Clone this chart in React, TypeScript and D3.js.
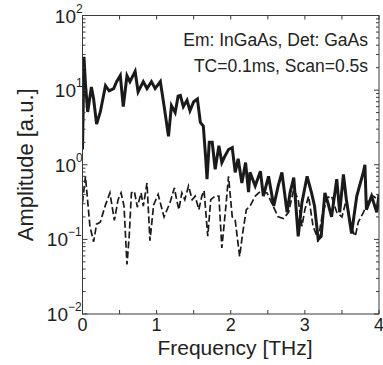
import React from 'react';
import * as d3 from 'd3';

// emitter InGaAs, detector GaAs spectra (solid = signal, dashed = noise floor)
const solidFreq = [0.00, 0.02, 0.04, 0.07, 0.12, 0.15, 0.19, 0.24, 0.31, 0.36, 0.42, 0.46, 0.51, 0.55, 0.60, 0.64, 0.71, 0.75, 0.82, 0.87, 0.93, 0.98, 1.05, 1.10, 1.16, 1.20, 1.25, 1.29, 1.32, 1.36, 1.41, 1.45, 1.50, 1.55, 1.59, 1.63, 1.66, 1.68, 1.71, 1.75, 1.79, 1.84, 1.88, 1.92, 1.97, 2.02, 2.06, 2.10, 2.15, 2.20, 2.24, 2.26, 2.33, 2.40, 2.44, 2.51, 2.58, 2.64, 2.69, 2.76, 2.80, 2.85, 2.91, 2.96, 3.03, 3.09, 3.13, 3.18, 3.22, 3.27, 3.31, 3.36, 3.43, 3.47, 3.52, 3.56, 3.63, 3.70, 3.79, 3.81, 3.83, 3.90, 3.97, 4.00];
const solidAmp = [1.6, 28, 12, 5.1, 11, 7.6, 3.5, 5.1, 11.5, 9.8, 10.5, 13, 15.7, 6, 15.6, 13, 17.8, 9.5, 13, 10.5, 13, 10.5, 13, 6.2, 2.4, 6.2, 5, 8.3, 8.5, 6, 7.3, 5.3, 7, 7.6, 3.7, 3.3, 1.3, 0.64, 2, 2, 0.87, 1.8, 1.07, 1.3, 1.6, 1.7, 0.79, 1.2, 0.57, 1.07, 0.43, 0.79, 0.52, 0.82, 0.38, 0.7, 0.28, 0.52, 0.79, 0.23, 0.42, 0.67, 0.11, 0.31, 0.7, 0.42, 0.28, 0.1, 0.11, 0.42, 0.31, 0.2, 0.64, 0.23, 0.74, 0.34, 0.12, 0.38, 0.8, 1.0, 0.25, 0.38, 0.23, 0.4];

const dashFreq = [0.00, 0.04, 0.10, 0.15, 0.19, 0.24, 0.31, 0.37, 0.43, 0.48, 0.52, 0.56, 0.60, 0.63, 0.66, 0.70, 0.74, 0.79, 0.82, 0.87, 0.91, 0.96, 1.02, 1.10, 1.18, 1.24, 1.27, 1.30, 1.34, 1.38, 1.43, 1.48, 1.52, 1.57, 1.61, 1.64, 1.69, 1.73, 1.79, 1.84, 1.88, 1.93, 1.97, 2.02, 2.06, 2.12, 2.16, 2.21, 2.26, 2.33, 2.40, 2.49, 2.55, 2.64, 2.71, 2.78, 2.85, 2.91, 2.96, 3.00, 3.05, 3.11, 3.18, 3.23, 3.30, 3.36, 3.43, 3.50, 3.56, 3.63, 3.68, 3.72, 3.79, 3.86, 3.92, 3.99];
const dashAmp = [0.31, 0.7, 0.15, 0.093, 0.16, 0.17, 0.29, 0.42, 0.18, 0.34, 0.42, 0.28, 0.046, 0.11, 0.42, 0.44, 0.27, 0.42, 0.28, 0.57, 0.096, 0.29, 0.4, 0.2, 0.31, 0.49, 0.34, 0.25, 0.42, 0.34, 0.52, 0.34, 0.38, 0.25, 0.38, 0.45, 0.11, 0.34, 0.38, 0.38, 0.077, 0.25, 0.7, 0.2, 0.18, 0.059, 0.12, 0.25, 0.28, 0.38, 0.44, 0.42, 0.31, 0.2, 0.19, 0.23, 0.47, 0.34, 0.15, 0.25, 0.38, 0.15, 0.1, 0.2, 0.36, 0.38, 0.23, 0.2, 0.34, 0.14, 0.11, 0.17, 0.23, 0.34, 0.38, 0.34];

const xTickLabels = [0, 1, 2, 3, 4];
const yExponents = [-2, -1, 0, 1, 2];
const notes = ['Em: InGaAs, Det: GaAs', 'TC=0.1ms, Scan=0.5s'];

const W = 383;
const H = 365;
const FONT = '"Liberation Sans", Arial, sans-serif';
const AXIS = '#3a3a3a';

const App: React.FC = () => {
  const left = 82.5, right = 379, top = 15.5, bottom = 314;

  const x = d3.scaleLinear().domain([0, 4]).range([left, right]);
  const y = d3.scaleLog().domain([1e-2, 1e2]).range([bottom, top]);

  const line = d3.line<[number, number]>()
    .x(d => x(d[0]))
    .y(d => y(d[1]));

  const solid = solidFreq.map((f, i) => [f, solidAmp[i]] as [number, number]);
  const dashed = dashFreq.map((f, i) => [f, dashAmp[i]] as [number, number]);

  const xTicks = d3.range(0, 4.01, 0.5);
  const yMinor: number[] = [];
  yExponents.slice(0, -1).forEach(e => {
    for (let m = 2; m <= 9; m++) yMinor.push(m * Math.pow(10, e));
  });

  return (
    <svg width={W} height={H} style={{ position: 'absolute', left: 0, top: 0, background: '#fff' }}>
      <rect x={0} y={0} width={W} height={H} fill="#fff" />
      <defs>
        <clipPath id="clip">
          <rect x={left} y={top} width={right - left} height={bottom - top} />
        </clipPath>
      </defs>

      {/* plot lines */}
      <g clipPath="url(#clip)">
        <path d={line(solid) ?? ''} fill="none" stroke="#1a1a1a" strokeWidth={3} strokeLinejoin="miter" />
        <path d={line(dashed) ?? ''} fill="none" stroke="#1a1a1a" strokeWidth={1.7} strokeDasharray="7,3" />
      </g>

      {/* box */}
      <rect x={left} y={top} width={right - left} height={bottom - top} fill="none" stroke={AXIS} strokeWidth={1} />

      {/* x ticks */}
      {xTicks.map(t => (
        <g key={'xt' + t}>
          <line x1={x(t)} x2={x(t)} y1={bottom} y2={bottom - 4} stroke={AXIS} />
          <line x1={x(t)} x2={x(t)} y1={top} y2={top + 4} stroke={AXIS} />
        </g>
      ))}
      {xTickLabels.map(t => (
        <text key={'xl' + t} x={x(t)} y={331} textAnchor="middle" fontFamily={FONT} fontSize={18} fill="#222">{t}</text>
      ))}

      {/* y ticks */}
      {yExponents.map(e => {
        const v = Math.pow(10, e);
        return (
          <g key={'yt' + e}>
            <line x1={left} x2={left + 5} y1={y(v)} y2={y(v)} stroke={AXIS} />
            <line x1={right} x2={right - 5} y1={y(v)} y2={y(v)} stroke={AXIS} />
            <text x={e < 0 ? 68 : 76} y={y(v) + 7} textAnchor="end" fontFamily={FONT} fontSize={19} fill="#222">
              10
            </text>
            <text x={e < 0 ? 68 : 76} y={y(v) - 3} textAnchor="start" fontFamily={FONT} fontSize={12} fill="#222">
              {e < 0 ? '\u2212' + Math.abs(e) : e}
            </text>
          </g>
        );
      })}
      {yMinor.map(v => (
        <g key={'ym' + v}>
          <line x1={left} x2={left + 3} y1={y(v)} y2={y(v)} stroke={AXIS} />
          <line x1={right} x2={right - 3} y1={y(v)} y2={y(v)} stroke={AXIS} />
        </g>
      ))}

      {/* annotations */}
      {notes.map((n, i) => (
        <text key={n} x={368} y={46 + i * 26} textAnchor="end" fontFamily={FONT} fontSize={17.5} fill="#222">{n}</text>
      ))}

      {/* axis labels */}
      <text x={235} y={355} textAnchor="middle" fontFamily={FONT} fontSize={21} fill="#222">Frequency [THz]</text>
      <text transform={`translate(33,${(top + bottom) / 2}) rotate(-90)`} textAnchor="middle" fontFamily={FONT} fontSize={22} fill="#222">Amplitude [a.u.]</text>
    </svg>
  );
};

export default App;
